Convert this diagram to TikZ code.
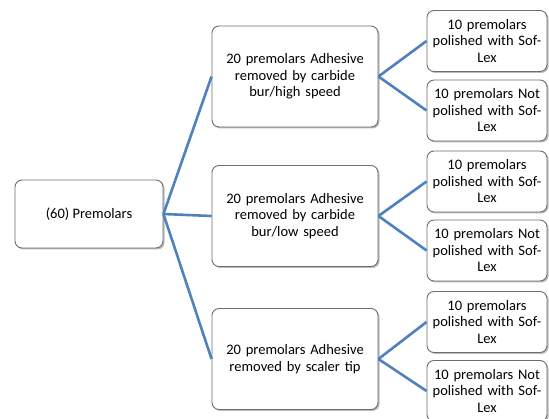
\documentclass[tikz,border=0pt]{standalone}
\usepackage{fontspec}
\setmainfont{Carlito}
\usetikzlibrary{shadows}
\definecolor{linkblue}{RGB}{79,129,189}
\definecolor{boxline}{RGB}{110,110,110}
\tikzset{
  box/.style={draw=boxline, line width=0.9pt, fill=white, rounded corners=7pt,
    align=center, font=\fontsize{14.5}{16.5}\selectfont, inner sep=1pt,
    drop shadow={shadow xshift=1.5pt, shadow yshift=-1.5pt, fill=black!45, opacity=0.6}},
  rootbox/.style={box, minimum width=148pt, minimum height=68pt},
  midbox/.style={box, minimum width=166pt, minimum height=101pt, text width=160pt},
  leafbox/.style={box, minimum width=120pt, minimum height=61pt, text width=118pt},
  link/.style={draw=linkblue, line width=2.6pt}
}
\begin{document}
\begin{tikzpicture}[x=1pt,y=-1pt]
\useasboundingbox (0,0) rectangle (549,419);
\node[rootbox] (root) at (89,214) {(60) Premolars};
\node[midbox] (m1) at (295,76.5) {20 premolars Adhesive\\removed by carbide\\bur/high speed};
\node[midbox] (m2) at (295,216) {20 premolars Adhesive\\removed by carbide\\bur/low speed};
\node[midbox] (m3) at (295,359) {20 premolars Adhesive\\removed by scaler tip};
\node[leafbox] (l1) at (487,41) {10 premolars\\polished with Sof-\\Lex};
\node[leafbox] (l2) at (487,110.5) {10 premolars Not\\polished with Sof-\\Lex};
\node[leafbox] (l3) at (487,181.5) {10 premolars\\polished with Sof-\\Lex};
\node[leafbox] (l4) at (487,250.5) {10 premolars Not\\polished with Sof-\\Lex};
\node[leafbox] (l5) at (487,322) {10 premolars\\polished with Sof-\\Lex};
\node[leafbox] (l6) at (487,391) {10 premolars Not\\polished with Sof-\\Lex};
\foreach \m in {m1,m2,m3} \path[link] (root.east) -- (\m.west);
\path[link] (m1.east) -- (l1.west);
\path[link] (m1.east) -- (l2.west);
\path[link] (m2.east) -- (l3.west);
\path[link] (m2.east) -- (l4.west);
\path[link] (m3.east) -- (l5.west);
\path[link] (m3.east) -- (l6.west);
\end{tikzpicture}
\end{document}
